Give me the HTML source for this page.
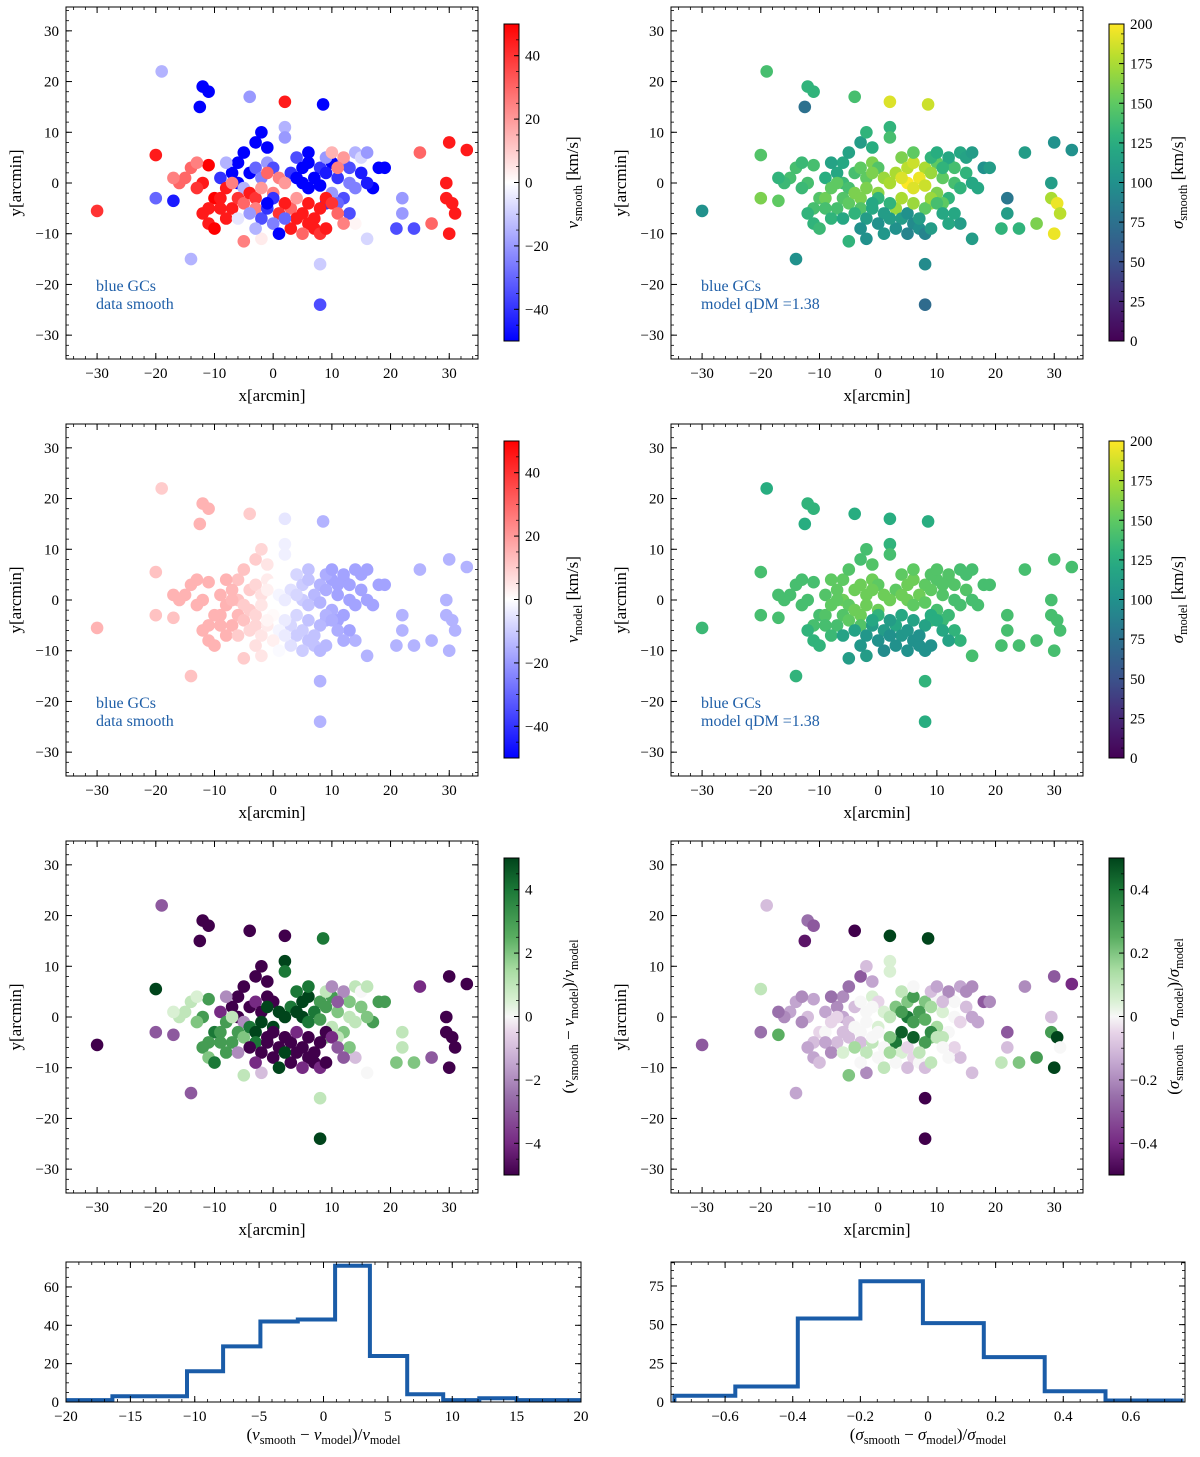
<!DOCTYPE html>
<html><head><meta charset="utf-8"><style>
body{margin:0;background:#fff;}
svg{display:block;font-family:"Liberation Serif",serif;}
</style></head><body>
<svg id="fig" width="1200" height="1457" viewBox="0 0 1200 1457" xmlns="http://www.w3.org/2000/svg"></svg>
<script>
// ---- shared GC positions (arcmin) ----
const xs=[-30,-19,-12,-11,-12.5,-4,2,8.5,-20,-20,-17,-14,8,8,
30,33,25,29.5,29.5,30.5,31,30,22,22,24,21,27,16,
-5,-2,14,
-6,-5,-3,-2,-1,-4,-6,-7,-3,-1,-8,0,-2,-5,-9,
2,2,4,5,6,3,8,10,7,5,4,6,8,9,11,12,14,15,16,13,15,17,18,19,16,10,12,13,11,13,14,9,6,9,10,12,11,
3,4,5,6,7,8,9,8,9,10,11,6,4,2,1,3,7,12,5,
-10,-11,-12,-11,-9,-8,-7,-6,-5,-4,-3,-9,-8,-10,-11,-12,-7,-13,-15,-16,-17,-14,-13,-2,0,-1,1,2,-3,
-2,-1,0,1,-4,-6,-3,2,0,-1];
const ys=[-5.5,22,19,18,15,17,16,15.5,5.5,-3,-3.5,-15,-16,-24,
8,6.5,6,0,-3,-4,-6,-10,-3,-6,-9,-9,-8,-11,
-11.5,-11,-8,
4,6,8,10,7,2,0,2,3,4,4,3,1,-1,1,
11,9,5,3,4,2,3,4,1,0,1,-1,-0.5,2,1,4,6,5,6,3,2,-1,3,3,0,-2,-3,-6,-4,0,-1,-4,6,5,6,5,3,
-5,-7,-6,-8,-9,-10,-9,-5,-3,-4,-6,-4,-3,-4,-6,-9,-7,-8,-10,
-3,-5,-6,-8,-3,-1,-5,-3,-4,-2,-3,-5,-7,-9,3.5,0,0,-1,1,0,1,3,4,-1,-2,2,1,0,-5,
-7,-5,-8,-10,-6,-7,-9,-7,-3,-4];
const vSmooth=[40,-15,-50,-50,-50,-20,45,-50,45,-30,-45,-15,-10,-35,
45,45,30,45,45,45,45,45,-20,-20,-35,-35,30,-8,
25,4,2,
-50,-50,-50,-50,-50,-50,-50,-50,-30,-20,-15,-35,-25,-15,-40,
-15,-20,-35,-50,-50,-40,-40,-50,-50,-50,-50,-50,-50,-45,-40,-25,-15,-8,-20,-35,-45,-50,-50,-50,-45,-20,-35,-35,-30,-25,-25,-40,-50,-20,15,20,25,
30,45,45,45,45,40,45,45,45,40,30,45,20,45,40,45,45,25,30,
50,45,45,45,45,45,45,40,30,45,40,45,45,50,50,45,25,40,30,30,25,30,25,20,25,30,25,20,25,
-35,-40,-25,-50,-20,-5,-15,-30,-40,-50];
const sigSmooth=[100,140,130,130,75,140,190,185,145,160,150,100,95,70,
100,100,110,110,175,195,180,195,80,110,130,130,160,110,
130,100,110,
120,115,110,130,125,140,135,120,150,160,115,145,150,140,125,
130,140,160,180,185,175,175,150,195,200,190,190,185,170,150,130,120,115,110,140,130,120,100,110,120,160,130,120,150,140,130,170,150,130,125,120,130,
170,110,100,95,100,90,110,150,170,140,120,170,175,130,110,100,110,120,90,
145,140,130,130,155,150,140,145,150,160,160,140,130,135,140,140,150,135,140,135,130,140,135,160,165,160,170,175,145,
110,120,100,105,130,120,100,110,130,120];
const vModel=[15,10,15,15,15,10,-5,-15,12,12,12,12,-15,-15,
-15,-15,-15,-15,-15,-15,-15,-15,-15,-15,-15,-15,-15,-15,
10,5,-15,
12,12,10,8,5,10,12,14,8,4,15,0,6,10,15,
-3,-3,-8,-10,-12,-6,-15,-18,-14,-10,-8,-12,-15,-16,-18,-18,-18,-18,-18,-18,-18,-18,-18,-18,-18,-16,-18,-18,-18,-18,-18,-16,-12,-16,-18,-18,-18,
-8,-10,-10,-12,-12,-14,-14,-14,-15,-16,-16,-12,-8,-4,-2,-6,-12,-16,-10,
15,15,15,15,15,15,15,14,12,10,8,15,15,15,15,15,14,15,15,15,15,15,15,5,0,3,-2,-4,8,
5,4,3,-1,8,10,6,-4,1,2];
const sigModel=[135,125,130,130,125,125,125,125,140,140,140,130,130,125,
140,140,140,140,140,140,140,140,140,140,140,140,140,140,
110,110,130,
150,145,140,140,145,155,155,150,155,155,150,150,155,150,145,
130,140,150,155,155,150,150,145,155,155,155,150,150,150,145,145,140,140,140,145,145,140,140,140,140,140,135,130,135,140,140,135,150,145,145,145,145,
120,105,105,100,100,100,100,115,125,125,120,115,120,110,110,100,100,115,100,
140,140,130,130,145,150,140,145,150,155,155,140,135,130,140,140,150,140,140,140,140,140,140,155,155,155,155,155,145,
105,110,100,95,115,115,105,100,130,120];
const dV=[-5,-3,-5,-5,-5,-5,-5,4,5,-3,-3,-3,1,5,
-5,-5,-4,-5,-5,-5,-5,-5,1,1,2,2,-3,0,
1,-1,-1,
-5,-5,-5,-5,-5,-5,-5,-5,-4,-5,-2,-5,-5,-2,-4,
5,4,4,5,5,4,3,3,4,5,5,4,3,3,2,1,1,0,1,2,2,3,3,3,2,1,2,2,1,1,1,2,4,1,-2,-2,-3,
-5,-5,-5,-5,-5,-4,-5,-5,-5,-4,-3,-5,-4,-5,-5,-5,-5,-3,-4,
4,3,3,2,3,3,3,3,2,4,5,3,3,4,3,3,1,2,1,1,0.5,1,0.5,5,5,5,5,5,4,
-5,-5,-5,5,-5,-2,-4,5,-5,-5];
const dSig=[-0.3,-0.1,-0.25,-0.3,-0.45,-0.5,0.5,0.5,0.1,-0.25,0.25,-0.15,-0.5,-0.5,
-0.3,-0.4,-0.2,-0.1,0.3,0.5,0.0,0.5,-0.3,-0.1,0.2,0.1,0.3,-0.1,
0.2,-0.2,-0.1,
-0.2,-0.25,-0.3,-0.1,-0.15,-0.1,-0.15,-0.2,0.0,0.05,-0.25,-0.05,0.0,-0.1,-0.15,
0.05,0.05,0.1,0.2,0.3,0.2,0.2,0,0.3,0.4,0.3,0.3,0.25,0.15,0.05,-0.1,-0.15,-0.2,-0.2,0,-0.1,-0.15,-0.3,-0.2,-0.15,0.15,0,-0.05,0.1,0,-0.05,0.2,0,-0.1,-0.15,-0.2,-0.1,
0.4,0.05,-0.05,-0.05,0,-0.1,0.1,0.3,0.35,0.1,0,0.45,0.45,0.2,0,0,0.1,0,-0.1,
-0.05,-0.1,-0.15,-0.15,0,-0.05,-0.1,-0.1,-0.1,0,0,-0.15,-0.2,-0.1,-0.15,-0.1,-0.05,-0.2,-0.15,-0.2,-0.25,-0.15,-0.2,0,0.05,0,0.05,0.1,-0.1,
0.1,0.1,0,0.1,0.15,0.05,0,0.15,0,0];
// ---- histograms ----
const histVEdges=[-20,-16.4,-10.6,-7.8,-4.9,-2,0.9,3.6,6.5,9.3,12.1,15,20];
const histVCounts=[1,3,16,29,42,43,71,24,4,1,2,1];
const histSEdges=[-0.75,-0.57,-0.385,-0.2,-0.015,0.165,0.345,0.525,0.75];
const histSCounts=[4,10,54,78,51,29,7,1];
const spatialTicks=[-30,-20,-10,0,10,20,30];
const histVxTicks=[-20,-15,-10,-5,0,5,10,15,20];
const histVyTicks=[0,20,40,60];
const histSxTicks=[-0.6,-0.4,-0.2,0,0.2,0.4,0.6];
const histSyTicks=[0,25,50,75];

const NS="http://www.w3.org/2000/svg";
const svg=document.getElementById('fig');
function mk(tag,attrs,parent){const e=document.createElementNS(NS,tag);for(const k in attrs)e.setAttribute(k,attrs[k]);(parent||svg).appendChild(e);return e;}
function hex(h){return [parseInt(h.substr(1,2),16),parseInt(h.substr(3,2),16),parseInt(h.substr(5,2),16)];}
function cmap(stops){const s=stops.map(p=>[p[0],hex(p[1])]);return t=>{t=Math.max(0,Math.min(1,t));for(let i=1;i<s.length;i++){if(t<=s[i][0]){const a=s[i-1],b=s[i],f=(t-a[0])/(b[0]-a[0]);const c=a[1].map((v,j)=>Math.round(v+(b[1][j]-v)*f));return `rgb(${c[0]},${c[1]},${c[2]})`;}}const c=s[s.length-1][1];return `rgb(${c[0]},${c[1]},${c[2]})`;};}
const bwr=cmap([[0,'#0000ff'],[0.5,'#ffffff'],[1,'#ff0000']]);
const viridis=cmap([[0,'#440154'],[0.13,'#482878'],[0.25,'#3b528b'],[0.38,'#2c728e'],[0.5,'#21918c'],[0.63,'#28ae80'],[0.75,'#5ec962'],[0.88,'#addc30'],[1,'#fde725']]);
const prgn=cmap([[0,'#40004b'],[0.1,'#762a83'],[0.25,'#9970ab'],[0.35,'#c2a5cf'],[0.45,'#e7d4e8'],[0.5,'#f7f7f7'],[0.55,'#d9f0d3'],[0.65,'#a6dba0'],[0.75,'#5aae61'],[0.9,'#1b7837'],[1,'#00441b']]);

function lbl(g,x,y,txt,anchor,size,extra){const t=mk('text',Object.assign({x:x,y:y,'text-anchor':anchor||'middle','font-size':size||15,fill:'#000'},extra||{}),g);t.textContent=txt;return t;}
function fmt(v){const s=(Math.abs(v)<1e-9?0:v).toString();return s.replace('-','\u2212');}

function ticksOnAxis(g,L,T,W,H,xmap,ymap,xt,yt,xminor,yminor,xfmt,yfmt){
  xt.forEach(v=>{const px=xmap(v);mk('line',{x1:px,y1:T+H,x2:px,y2:T+H-6,stroke:'#000','stroke-width':1},g);mk('line',{x1:px,y1:T,x2:px,y2:T+6,stroke:'#000','stroke-width':1},g);lbl(g,px,T+H+19,xfmt(v));});
  xminor.forEach(v=>{const px=xmap(v);mk('line',{x1:px,y1:T+H,x2:px,y2:T+H-3,stroke:'#000','stroke-width':0.8},g);mk('line',{x1:px,y1:T,x2:px,y2:T+3,stroke:'#000','stroke-width':0.8},g);});
  yt.forEach(v=>{const py=ymap(v);mk('line',{x1:L,y1:py,x2:L+6,y2:py,stroke:'#000','stroke-width':1},g);mk('line',{x1:L+W,y1:py,x2:L+W-6,y2:py,stroke:'#000','stroke-width':1},g);lbl(g,L-7,py+5,yfmt(v),'end');});
  yminor.forEach(v=>{const py=ymap(v);mk('line',{x1:L,y1:py,x2:L+3,y2:py,stroke:'#000','stroke-width':0.8},g);mk('line',{x1:L+W,y1:py,x2:L+W-3,y2:py,stroke:'#000','stroke-width':0.8},g);});
}
function range(a,b,s){const r=[];for(let v=a;v<=b+1e-9;v+=s)r.push(Math.round(v*1000)/1000);return r;}

function mathLabel(g,x,y,parts,rot,size){
  const t=mk('text',{x:x,y:y,'text-anchor':'middle','font-size':size||17,fill:'#000',transform:rot?`rotate(-90 ${x} ${y})`:''},g);
  parts.forEach(p=>{const ts=mk('tspan',{},t);ts.textContent=p[0];
    if(p[1]==='i')ts.setAttribute('font-style','italic');
    if(p[1]==='s'){ts.setAttribute('font-size',(size||17)*0.72);ts.setAttribute('dy',4);}
    if(p[1]==='u'){ts.setAttribute('dy',-4);}
  });
  return t;
}

function scatterPanel(name,L,T,values,cm,vmin,vmax,cbTicks,cbFmt,cbLabelParts,textLines){
  const W=412,H=352;
  const g=mk('g',{});
  
  
  const xmap=v=>L+(v+35.3)/70.2*W;
  const ymap=v=>T+H/2-v*(H/69.4);
  const clipId='c'+name;
  const cp=mk('clipPath',{id:clipId},g);mk('rect',{x:L,y:T,width:W,height:H},cp);
  const pg=mk('g',{'clip-path':`url(#${clipId})`},g);
  
  
  for(let i=0;i<xs.length;i++){
    const c=mk('circle',{cx:xmap(xs[i]).toFixed(1),cy:ymap(ys[i]).toFixed(1),r:6.3,fill:cm((values[i]-vmin)/(vmax-vmin))},pg);
    
    
  }
  const fr=mk('rect',{x:L,y:T,width:W,height:H,fill:'none',stroke:'#000','stroke-width':1},g);
  
  
  ticksOnAxis(g,L,T,W,H,xmap,ymap,spatialTicks,spatialTicks,range(-34,34,2),range(-34,34,2),fmt,fmt);
  const xl=lbl(g,L+W/2,T+H+42,'x[arcmin]','middle',17);
  
  
  const yl=lbl(g,L-45,T+H/2,'y[arcmin]','middle',17,{transform:`rotate(-90 ${L-45} ${T+H/2})`});
  
  
  if(textLines){textLines.forEach((s,k)=>{const t=lbl(g,L+30,T+284+k*18,s,'start',16,{fill:'#1f5fa8'});});}
  const cx=L+438,cy=T+17,cw=15,ch=317;
  const gid='grad'+name;
  const defs=mk('defs',{},g);const lg=mk('linearGradient',{id:gid,x1:0,y1:1,x2:0,y2:0},defs);
  for(let k=0;k<=20;k++)mk('stop',{offset:k/20,'stop-color':cm(k/20)},lg);
  const cb=mk('rect',{x:cx,y:cy,width:cw,height:ch,fill:`url(#${gid})`,stroke:'#000','stroke-width':1},g);
  
  
  const cmapY=v=>cy+ch-(v-vmin)/(vmax-vmin)*ch;
  cbTicks.forEach(v=>{const py=cmapY(v);mk('line',{x1:cx+cw,y1:py,x2:cx+cw-5,y2:py,stroke:'#000'},g);lbl(g,cx+cw+6,py+5,cbFmt(v),'start',15);});
  const step=(cbTicks[1]-cbTicks[0])/4;
  for(let v=vmin;v<=vmax+1e-9;v+=step){const py=cmapY(v);mk('line',{x1:cx+cw,y1:py,x2:cx+cw-3,y2:py,stroke:'#000','stroke-width':0.7},g);}
  const cl=mathLabel(g,cx+74,cy+ch/2,cbLabelParts,true,17);
  
  
}

scatterPanel('panel-v-smooth',66,7,vSmooth,bwr,-50,50,[-40,-20,0,20,40],fmt,[['v','i'],['smooth','s'],['  [km/s]','u']],['blue GCs','data smooth']);
scatterPanel('panel-sigma-smooth',671,7,sigSmooth,viridis,0,200,[0,25,50,75,100,125,150,175,200],fmt,[['σ','i'],['smooth','s'],['  [km/s]','u']],['blue GCs','model qDM =1.38']);
scatterPanel('panel-v-model',66,424,vModel,bwr,-50,50,[-40,-20,0,20,40],fmt,[['v','i'],['model','s'],['  [km/s]','u']],['blue GCs','data smooth']);
scatterPanel('panel-sigma-model',671,424,sigModel,viridis,0,200,[0,25,50,75,100,125,150,175,200],fmt,[['σ','i'],['model','s'],['  [km/s]','u']],['blue GCs','model qDM =1.38']);
scatterPanel('panel-v-residual',66,841,dV,prgn,-5,5,[-4,-2,0,2,4],fmt,[['(','u'],['v','i'],['smooth','s'],[' − ','u'],['v','i'],['model','s'],[')/','u'],['v','i'],['model','s']],null);
scatterPanel('panel-sigma-residual',671,841,dSig,prgn,-0.5,0.5,[-0.4,-0.2,0,0.2,0.4],v=>fmt(v.toFixed(1)),[['(','u'],['σ','i'],['smooth','s'],[' − ','u'],['σ','i'],['model','s'],[')/','u'],['σ','i'],['model','s']],null);

function histPanel(name,L,R,edges,counts,xmin,xmax,ymax,xt,yt,xminor,yminor,xfmt,labelParts){
  const T=1262,B=1402,W=R-L,H=B-T;
  const g=mk('g',{});
  
  
  const xmap=v=>L+(v-xmin)/(xmax-xmin)*W;
  const ymap=v=>B-v/ymax*H;
  let d=`M${xmap(edges[0])},${ymap(0)}`;
  counts.forEach((c,i)=>{d+=` L${xmap(edges[i]).toFixed(1)},${ymap(c).toFixed(1)} L${xmap(edges[i+1]).toFixed(1)},${ymap(c).toFixed(1)}`;});
  d+=` L${xmap(edges[edges.length-1])},${ymap(0)}`;
  const cp=mk('clipPath',{id:'c'+name},g);mk('rect',{x:L,y:T,width:W,height:H},cp);
  const p=mk('path',{d:d,fill:'none',stroke:'#1a5ca8','stroke-width':4,'clip-path':`url(#c${name})`},g);
  
  
  mk('rect',{x:L,y:T,width:W,height:H,fill:'none',stroke:'#000'},g);
  ticksOnAxis(g,L,T,W,H,xmap,ymap,xt,yt,xminor,yminor,xfmt,fmt);
  const xl=mathLabel(g,L+W/2,B+42,labelParts,false,17);
  
  
}
histPanel('hist-v-residual',66,581,histVEdges,histVCounts,-20,20,73,histVxTicks,histVyTicks,range(-19,19,1),range(0,72,5),fmt,[['(','u'],['v','i'],['smooth','s'],[' − ','u'],['v','i'],['model','s'],[')/','u'],['v','i'],['model','s']]);
histPanel('hist-sigma-residual',671,1185,histSEdges,histSCounts,-0.76,0.76,90.5,histSxTicks,histSyTicks,range(-0.75,0.75,0.05),range(0,90,5),v=>fmt(v.toFixed(1)),[['(','u'],['σ','i'],['smooth','s'],[' − ','u'],['σ','i'],['model','s'],[')/','u'],['σ','i'],['model','s']]);
</script>
</body></html>
